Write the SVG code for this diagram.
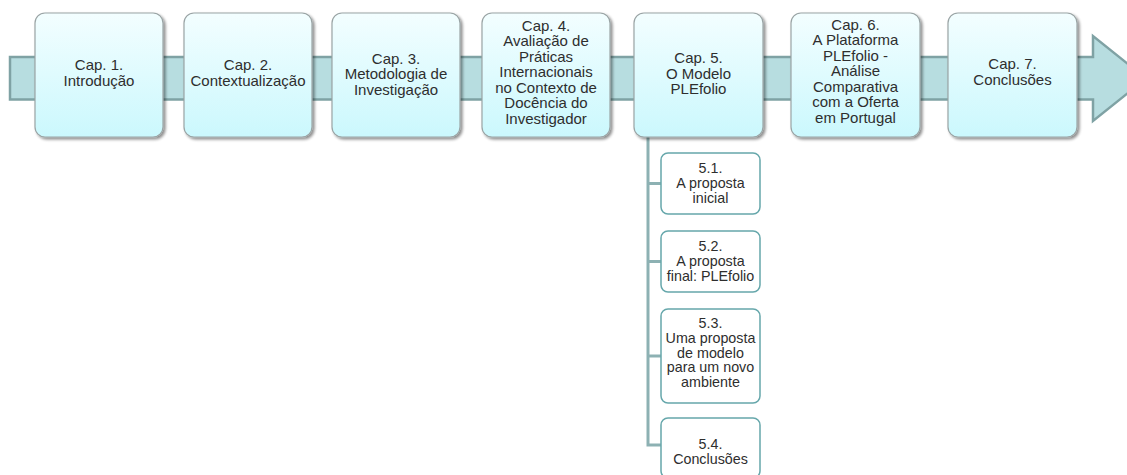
<svg xmlns="http://www.w3.org/2000/svg" width="1127" height="475" viewBox="0 0 1127 475">
<defs>
<linearGradient id="g" x1="0" y1="0" x2="0" y2="1">
<stop offset="0" stop-color="#f3feff"/>
<stop offset="1" stop-color="#cbf8fd"/>
</linearGradient>
<filter id="sh" x="-10%" y="-10%" width="125%" height="125%">
<feGaussianBlur in="SourceAlpha" stdDeviation="1.5"/>
<feOffset dx="1.5" dy="2" result="b"/>
<feComponentTransfer><feFuncA type="linear" slope="0.45"/></feComponentTransfer>
<feMerge><feMergeNode/><feMergeNode in="SourceGraphic"/></feMerge>
</filter>
</defs>
<style>
.box{fill:url(#g);stroke:#9aa4a5;stroke-width:1.2;filter:url(#sh)}
.sub{fill:#ffffff;stroke:#66a7ab;stroke-width:1.5}
.t{font-family:"Liberation Sans",Arial,sans-serif;font-size:15px;fill:#2e2e2e;text-anchor:middle}
.s{font-family:"Liberation Sans",Arial,sans-serif;font-size:14.3px;fill:#2e2e2e;text-anchor:middle}
.con{fill:none;stroke:#8db1b3;stroke-width:3}
</style>
<g id="arrow">
<path d="M10,57 H1093 V36 L1146,78.5 L1093,121 V99.5 H10 Z" fill="#b7dde0" stroke="#7fa2a4" stroke-width="2.5"/>
</g>
<g id="connectors">
<path class="con" d="M648,137 V445 H661"/>
<path class="con" d="M648,183.5 H661 M648,261.5 H661 M648,356 H661"/>
</g>
<g id="cap1">
<rect class="box" x="35" y="13" width="128" height="124" rx="10"/>
<text class="t" x="99" y="70">Cap. 1.<tspan x="99" dy="15.5">Introdução</tspan></text>
</g>
<g id="cap2">
<rect class="box" x="184" y="13" width="128" height="124" rx="10"/>
<text class="t" x="248" y="70">Cap. 2.<tspan x="248" dy="15.5">Contextualização</tspan></text>
</g>
<g id="cap3">
<rect class="box" x="332" y="13" width="128" height="124" rx="10"/>
<text class="t" x="396" y="63.5">Cap. 3.<tspan x="396" dy="15.5">Metodologia de</tspan><tspan x="396" dy="15.5">Investigação</tspan></text>
</g>
<g id="cap4">
<rect class="box" x="482" y="13" width="128" height="124" rx="10"/>
<text class="t" x="546" y="30.5">Cap. 4.<tspan x="546" dy="15.5">Avaliação de</tspan><tspan x="546" dy="15.5">Práticas</tspan><tspan x="546" dy="15.5">Internacionais</tspan><tspan x="546" dy="15.5">no Contexto de</tspan><tspan x="546" dy="15.5">Docência do</tspan><tspan x="546" dy="15.5">Investigador</tspan></text>
</g>
<g id="cap5">
<rect class="box" x="634" y="13" width="129" height="124" rx="10"/>
<text class="t" x="698.5" y="63">Cap. 5.<tspan x="698.5" dy="15.5">O Modelo</tspan><tspan x="698.5" dy="15.5">PLEfolio</tspan></text>
</g>
<g id="cap6">
<rect class="box" x="791" y="13" width="129" height="124" rx="10"/>
<text class="t" x="855.5" y="29.5">Cap. 6.<tspan x="855.5" dy="15.5">A Plataforma</tspan><tspan x="855.5" dy="15.5">PLEfolio -</tspan><tspan x="855.5" dy="15.5">Análise</tspan><tspan x="855.5" dy="15.5">Comparativa</tspan><tspan x="855.5" dy="15.5">com a Oferta</tspan><tspan x="855.5" dy="15.5">em Portugal</tspan></text>
</g>
<g id="cap7">
<rect class="box" x="948" y="13" width="129" height="124" rx="10"/>
<text class="t" x="1012.5" y="69">Cap. 7.<tspan x="1012.5" dy="15.5">Conclusões</tspan></text>
</g>
<g id="sub51">
<rect class="sub" x="661" y="153" width="99" height="61" rx="7"/>
<text class="s" x="710.5" y="173">5.1.<tspan x="710.5" dy="14.8">A proposta</tspan><tspan x="710.5" dy="14.8">inicial</tspan></text>
</g>
<g id="sub52">
<rect class="sub" x="661" y="231" width="99" height="61" rx="7"/>
<text class="s" x="710.5" y="251">5.2.<tspan x="710.5" dy="14.8">A proposta</tspan><tspan x="710.5" dy="14.8">final: PLEfolio</tspan></text>
</g>
<g id="sub53">
<rect class="sub" x="661" y="309" width="99" height="94" rx="7"/>
<text class="s" x="710.5" y="328">5.3.<tspan x="710.5" dy="14.8">Uma proposta</tspan><tspan x="710.5" dy="14.8">de modelo</tspan><tspan x="710.5" dy="14.8">para um novo</tspan><tspan x="710.5" dy="14.8">ambiente</tspan></text>
</g>
<g id="sub54">
<rect class="sub" x="661" y="418" width="99" height="60" rx="7"/>
<text class="s" x="710.5" y="449">5.4.<tspan x="710.5" dy="14.8">Conclusões</tspan></text>
</g>
</svg>
